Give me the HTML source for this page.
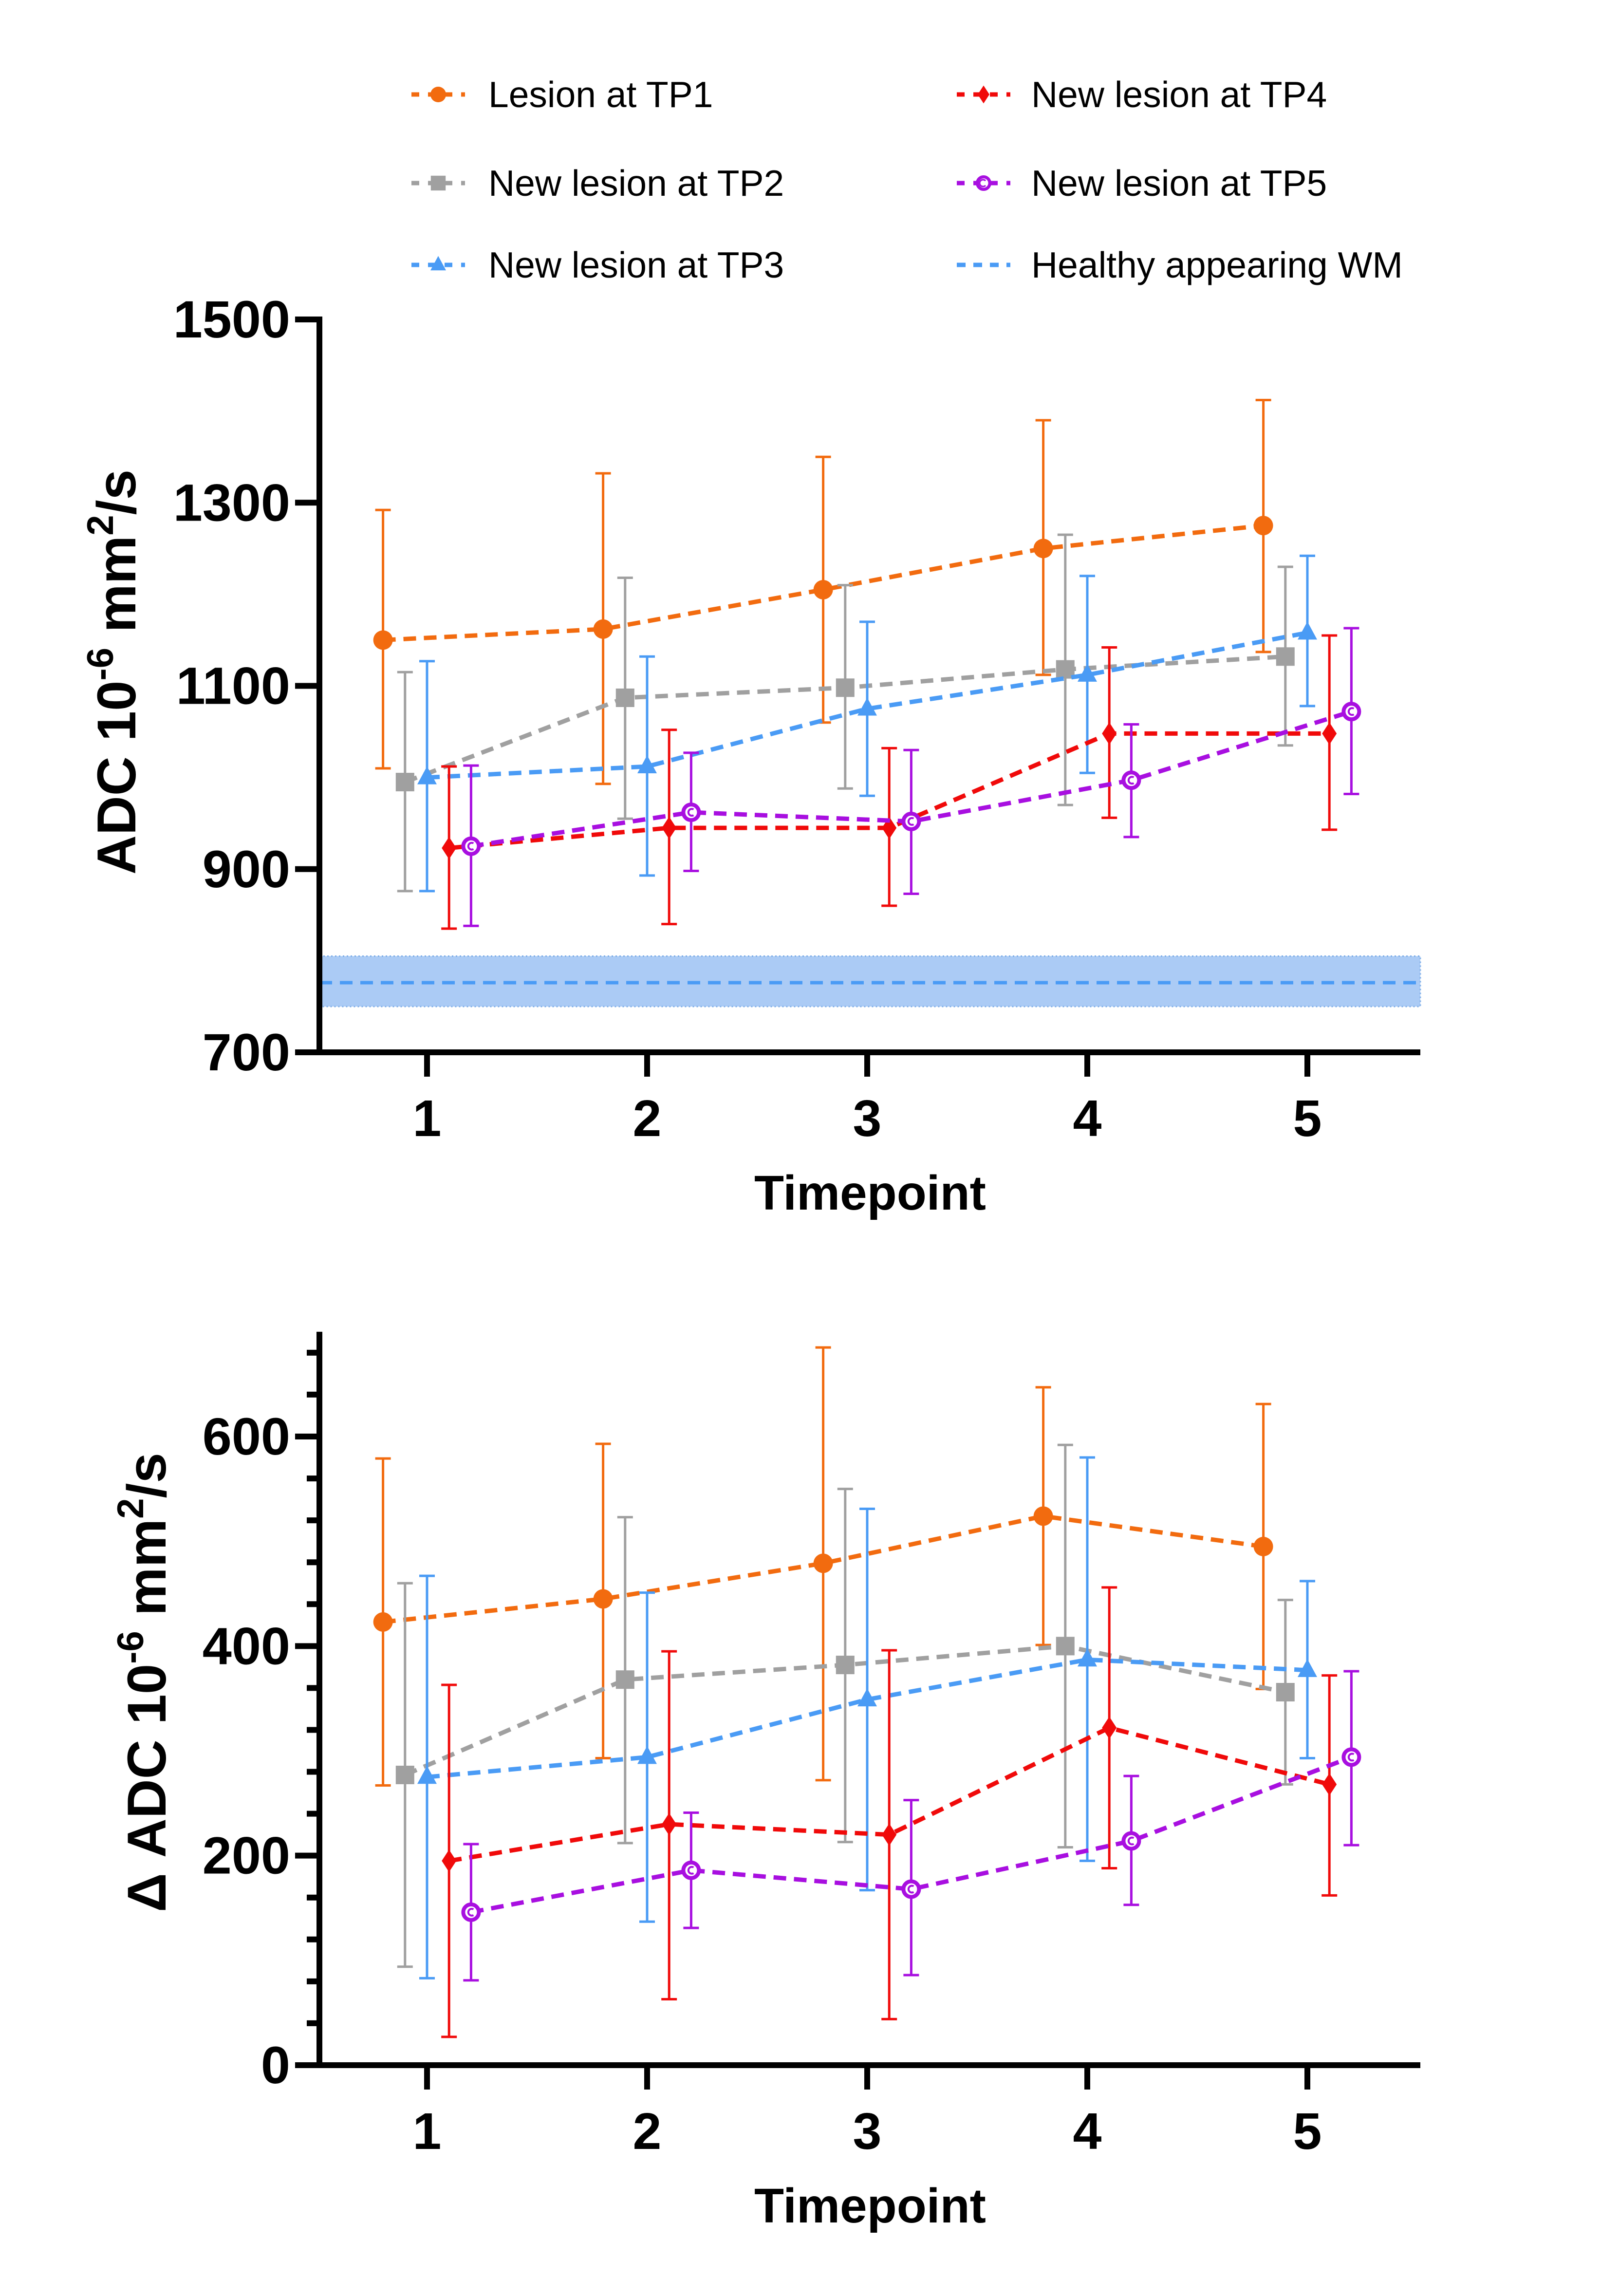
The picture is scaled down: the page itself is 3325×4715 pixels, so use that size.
<!DOCTYPE html>
<html><head><meta charset="utf-8"><style>
html,body{margin:0;padding:0;background:#fff}
svg{display:block}
text{font-family:"Liberation Sans",Arial,sans-serif}
</style></head><body>
<svg id="chart" xmlns="http://www.w3.org/2000/svg" width="3325" height="4715" viewBox="0 0 3325 4715">
<rect width="3325" height="4715" fill="#fff"/>
<g id="legend"></g>
<g id="top"></g>
<g id="bot"></g>
</svg>
<script>
const timepoints = [1,2,3,4,5];
const seriesNames = ["Lesion at TP1","New lesion at TP2","New lesion at TP3","New lesion at TP4","New lesion at TP5"];
const seriesKeys = ["tp1","tp2","tp3","tp4","tp5"];
const seriesColors = ["#F26B0F","#A0A0A0","#4A9BF5","#F00A0A","#A80FE0"];
const seriesMarkers = ["circle","square","triangle","diamond","ring"];
const seriesOffsets = [-0.2,-0.1,0,0.1,0.2];

// Top chart: ADC
const adcMean  = [[1150,1162,1205,1250,1275],[995,1087,1098,1118,1132],[1000,1012,1075,1112,1158],[923,945,945,1048,1048],[925,962,952,997,1072]];
const adcUpper = [[1292,1332,1350,1390,1412],[1115,1218,1210,1265,1230],[1127,1132,1170,1220,1242],[1012,1052,1032,1142,1155],[1013,1027,1030,1058,1163]];
const adcLower = [[1010,993,1060,1112,1137],[876,955,988,970,1035],[876,893,980,1005,1078],[835,840,860,956,943],[838,898,873,935,982]];
const healthyMean = 776, healthyLow = 750, healthyHigh = 805;
const topTicks = [700,900,1100,1300,1500];

// Bottom chart: delta ADC
const dMean  = [[423,445,479,524,495],[277,368,382,400,356],[275,294,349,387,377],[195,230,220,322,268],[146,186,168,214,294]];
const dUpper = [[579,593,685,647,631],[460,523,550,592,444],[467,451,531,580,462],[363,395,396,456,372],[211,241,253,276,376]];
const dLower = [[267,293,272,401,359],[94,212,213,208,268],[83,137,167,195,293],[27,63,44,188,162],[81,131,86,153,210]];
const botTicks = [0,200,400,600];
const botMinorTicks = [40,80,120,160,240,280,320,360,440,480,520,560,640,680];

const NS="http://www.w3.org/2000/svg";
function mk(parent,tag,attrs,text){const e=document.createElementNS(NS,tag);for(const k in attrs)e.setAttribute(k,attrs[k]);if(text!==undefined)e.textContent=text;parent.appendChild(e);return e;}

const AX=656, AXR=2917;
const xPos = t => 877 + (t-1)*452;

function marker(g,type,x,y,c,s){
  let m;
  if(type==="circle") m=mk(g,"circle",{cx:x,cy:y,r:20*s,fill:c});
  else if(type==="square") m=mk(g,"rect",{x:x-19*s,y:y-19*s,width:38*s,height:38*s,fill:c});
  else if(type==="triangle") m=mk(g,"polygon",{points:`${x},${y-23*s} ${x+20*s},${y+14*s} ${x-20*s},${y+14*s}`,fill:c});
  else if(type==="diamond") m=mk(g,"polygon",{points:`${x},${y-23*s} ${x+15*s},${y} ${x},${y+23*s} ${x-15*s},${y}`,fill:c});
  else { m=mk(g,"circle",{cx:x,cy:y,r:16*s,fill:"#fff",stroke:c,"stroke-width":8*s}); mk(g,"path",{d:`M${x+5*s},${y-6*s} A7 7 0 1 0 ${x+5*s},${y+6*s}`,fill:"none",stroke:c,"stroke-width":4*s}); }
  return m;
}

function drawChart(root,yMap,means,uppers,lowers,yTop,yBottom,ticks,minor,title,titleX,tlY){
  for(let i=0;i<means.length;i++){
    const g=mk(root,"g",{});
    
    
    const c=seriesColors[i];
    for(let j=0;j<timepoints.length;j++){
      const x=xPos(timepoints[j]+seriesOffsets[i]);
      const eb=mk(g,"path",{d:`M${x},${yMap(uppers[i][j])}V${yMap(lowers[i][j])}M${x-16},${yMap(uppers[i][j])}H${x+16}M${x-16},${yMap(lowers[i][j])}H${x+16}`,stroke:c,"stroke-width":5,fill:"none"});
      
      
    }
    const pts=timepoints.map((t,j)=>xPos(t+seriesOffsets[i])+","+yMap(means[i][j])).join(" ");
    const ln=mk(g,"polyline",{points:pts,fill:"none",stroke:c,"stroke-width":9,"stroke-dasharray":"26 16"});
    
    
    for(let j=0;j<timepoints.length;j++){
      const m=marker(g,seriesMarkers[i],xPos(timepoints[j]+seriesOffsets[i]),yMap(means[i][j]),c,1);
      
      
    }
  }
  const ax=mk(root,"g",{});
  
  
  mk(ax,"line",{x1:AX,y1:yTop,x2:AX,y2:yBottom+6,stroke:"#000","stroke-width":12});
  mk(ax,"line",{x1:AX-6,y1:yBottom,x2:AXR,y2:yBottom,stroke:"#000","stroke-width":12});
  ticks.forEach(v=>{
    mk(ax,"line",{x1:AX-50,y1:yMap(v),x2:AX,y2:yMap(v),stroke:"#000","stroke-width":12});
    const t=mk(ax,"text",{x:AX-60,y:yMap(v)+37,"text-anchor":"end","font-size":108,"font-weight":"bold"},String(v));
    
    
  });
  minor.forEach(v=>{ mk(ax,"line",{x1:AX-26,y1:yMap(v),x2:AX,y2:yMap(v),stroke:"#000","stroke-width":12}); });
  timepoints.forEach(t=>{
    mk(ax,"line",{x1:xPos(t),y1:yBottom,x2:xPos(t),y2:yBottom+50,stroke:"#000","stroke-width":12});
    const l=mk(ax,"text",{x:xPos(t),y:yBottom+172,"text-anchor":"middle","font-size":106,"font-weight":"bold"},String(t));
    
    
  });
  const xt=mk(ax,"text",{x:1787,y:yBottom+323,"text-anchor":"middle","font-size":100,"font-weight":"bold"},"Timepoint");
  
  
  const yt=mk(ax,"text",{transform:`translate(${titleX},${tlY}) rotate(-90)`,"text-anchor":"middle","font-size":112,"font-weight":"bold"});
  
  
  yt.innerHTML = title + ' 10<tspan dy="-46" font-size="76">-6</tspan><tspan dy="46"> mm</tspan><tspan dy="-46" font-size="76">2</tspan><tspan dy="46">/s</tspan>';
}

const topRoot=document.getElementById("top");
const yTopMap = v => 2161 - (v-700)*(1505/800);
const band=mk(topRoot,"rect",{x:AX,y:yTopMap(healthyHigh),width:AXR-AX,height:yTopMap(healthyLow)-yTopMap(healthyHigh),fill:"#ABCBF5",stroke:"#7FAEE8","stroke-width":3,"stroke-dasharray":"3 5"});


const hl=mk(topRoot,"line",{x1:AX,y1:yTopMap(healthyMean),x2:AXR,y2:yTopMap(healthyMean),stroke:"#4A9BF5","stroke-width":7,"stroke-dasharray":"26 16"});


drawChart(topRoot,yTopMap,adcMean,adcUpper,adcLower,yTopMap(1500)-6,yTopMap(700),topTicks,[],"ADC",278,1380);

const botRoot=document.getElementById("bot");
const yBotMap = v => 4241 - v*(1291/600);
drawChart(botRoot,yBotMap,dMean,dUpper,dLower,yBotMap(700),yBotMap(0),botTicks,botMinorTicks,"Δ ADC",340,3455);

const leg=document.getElementById("legend");
const legX=[845,1965], legTextX=[1003,2118], legY=[194,376,544];
const legItems=[[0,0,0],[0,1,1],[0,2,2],[1,0,3],[1,1,4]];
legItems.forEach(([col,row,i])=>{
  const g=mk(leg,"g",{});
  
  
  const y=legY[row], x=legX[col];
  mk(g,"line",{x1:x,y1:y,x2:x+110,y2:y,stroke:seriesColors[i],"stroke-width":9,"stroke-dasharray":"16 18"});
  marker(g,seriesMarkers[i],x+55,y,seriesColors[i],0.8);
  mk(g,"text",{x:legTextX[col],y:y+26,"font-size":75},seriesNames[i]);
});
{
  const g=mk(leg,"g",{});
  
  
  const y=legY[2], x=legX[1];
  mk(g,"line",{x1:x,y1:y,x2:x+110,y2:y,stroke:"#4A9BF5","stroke-width":9,"stroke-dasharray":"18 16"});
  mk(g,"text",{x:legTextX[1],y:y+26,"font-size":75},"Healthy appearing WM");
}
</script>
</body></html>
